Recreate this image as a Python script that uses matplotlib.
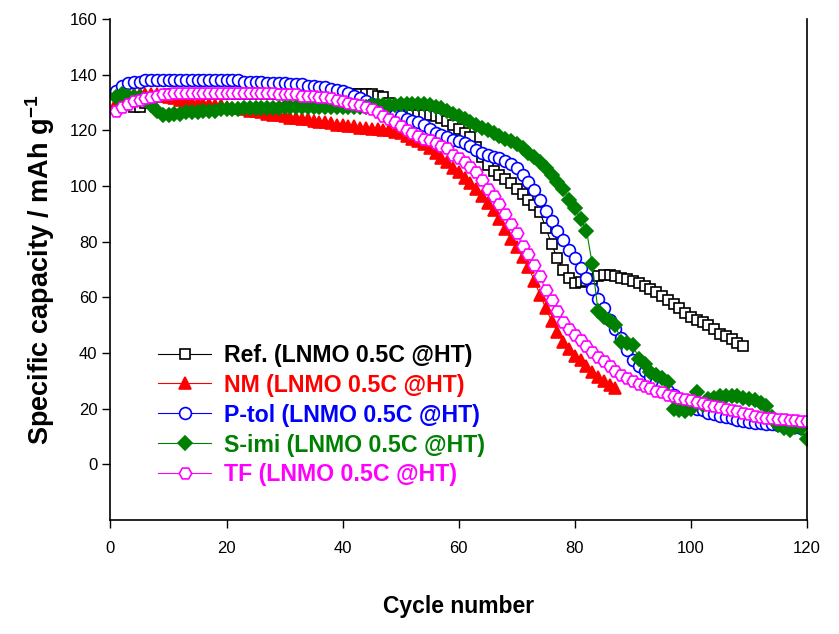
import numpy as np
import matplotlib
matplotlib.use("Agg")
import matplotlib.pyplot as plt

# Fuentes tipo Arial
plt.rcParams['font.family'] = ['Liberation Sans', 'DejaVu Sans']
plt.rcParams['mathtext.fontset'] = 'custom'
plt.rcParams['mathtext.rm'] = 'Liberation Sans'
plt.rcParams['mathtext.bf'] = 'Liberation Sans:bold'

# Datos (capacidad específica por ciclo)
ref_cap = [133, 131, 129.5, 128.5, 128.5, 130, 131.5, 132, 132.5, 133,
           133, 133, 133, 133, 133, 133, 133, 133, 133, 133,
           133, 133, 133, 133, 133, 133, 133, 133, 133, 133,
           133, 133, 133, 133, 133, 133, 133, 133, 133, 133,
           133, 133, 133, 133, 133, 132.5, 132, 130, 127, 125.5,
           125.5, 125.5, 125.5, 125.5, 125.5, 125, 124.5, 123.5, 122, 120.5,
           119, 117.5, 114, 110.5, 107.5, 105.5, 104, 102.5, 101, 99,
           97, 95, 93, 90.5, 85, 79, 74, 70, 67, 65,
           65.5, 66, 66.5, 67.5, 68, 68, 67.5, 67, 66.5, 66,
           65, 64, 63, 62, 60.5, 59, 57.5, 56, 54.5, 53,
           52, 51, 50, 48.5, 47, 46, 45, 43.5, 42.5]

nm_cap = [130, 131.5, 132.5, 133, 133, 133, 133, 133, 132.5, 132,
          131.5, 131, 130.5, 130, 130, 129.5, 129.5, 129, 129, 128.5,
          128, 128, 127.5, 127, 127, 126.5, 126, 125.5, 125.5, 125,
          124.5, 124.5, 124, 124, 123.5, 123, 123, 122.5, 122, 122,
          121.5, 121.5, 121, 121, 120.5, 120.5, 120, 120, 119.5, 119,
          118, 117, 116, 115, 113.5, 112, 110, 108.5, 106.5, 105,
          103, 101, 99, 96.5, 94, 91.5, 88, 84.5, 81, 78,
          74.5, 71, 66, 61, 56, 51.5, 47.5, 44, 41.5, 39,
          37.5, 35.5, 33, 31.5, 30, 28.5, 27.5]

ptol_cap = [134, 136, 137, 137.5, 137.5, 138, 138, 138, 138, 138,
            138, 138, 138, 138, 138, 138, 138, 138, 138, 138,
            138, 138, 137.5, 137.5, 137.5, 137.5, 137, 137, 137, 137,
            136.5, 136.5, 136.5, 136, 136, 135.5, 135.5, 135, 134.5, 134,
            133.5, 132.5, 131.5, 130.5, 129.5, 128.5, 127.5, 126.5, 125.5, 125,
            124, 123.5, 123, 122, 120.5, 119, 118.5, 117.5, 116.5, 116,
            115.5, 114.5, 113, 112, 111, 110.5, 110, 109, 108, 106.5,
            104, 101.5, 98.5, 95, 91, 87.5, 84, 80.5, 77, 74,
            70.5, 67, 63, 59.5, 56, 52, 48.5, 45.5, 41, 37.5,
            35.5, 33.5, 31.5, 29.5, 28, 26.5, 25, 23.5, 22.5, 21,
            20, 19.5, 18.5, 18, 17.5, 17, 16.5, 16, 15.5, 15.3,
            15, 14.8, 14.6, 14.4, 14.2, 14, 13.7, 13.3, 13, 12.5]

simi_cap = [132, 133, 132.5, 132, 132, 131, 129, 127, 125.5, 125.5,
            126, 126, 126.5, 126.5, 126.5, 127, 127, 127, 127.5, 127.5,
            127.5, 127.5, 128, 128, 128, 128, 128, 128, 128, 128.5,
            128.5, 128.5, 128.5, 128.5, 128.5, 128.5, 128.5, 128.5, 128.5, 128.5,
            128.5, 128.5, 128.5, 128.5, 129, 129, 129, 129, 129, 129.5,
            129.5, 129.5, 129.5, 129.5, 129, 128.5, 128, 127, 126, 125,
            124, 123, 122, 121, 120, 119, 118, 117, 116, 115,
            113.5, 112, 110.5, 108.5, 106.5, 104, 101.5, 99, 95, 92,
            88, 84, 72, 55, 53, 51.5, 50, 44, 43.5, 43,
            38, 36, 33, 32, 31, 29.5, 20, 19.5, 19, 20,
            26, 21.5, 23.5, 24, 24.5, 24.5, 24.5, 24.5, 24, 23.5,
            23, 22, 21, 17, 14, 13, 12.5, 13.5, 13, 9]

tf_cap = [127, 128.5, 129.5, 130.5, 131, 131.5, 132, 132.5, 133, 133,
          133.5, 133.5, 133.5, 133.5, 133.5, 133.5, 133.5, 133.5, 133.5, 133.5,
          133.5, 133.5, 133.5, 133.5, 133.5, 133.5, 133.5, 133.5, 133, 133,
          133, 133, 132.5, 132.5, 132.5, 132, 132, 131.5, 131, 130.5,
          130, 129.5, 129, 128.5, 127.5, 126.5, 125, 124, 123, 121.5,
          120, 119, 118, 117, 116.5, 115.5, 114.5, 113.5, 111, 110,
          108.5, 107, 105, 102, 99, 96.5, 93.5, 90, 86.5, 83,
          78.5, 75.5, 71.5, 67.5, 62.5, 59, 55, 51, 48.5, 46.5,
          44.5, 42.5, 40.5, 38.5, 37, 35.5, 33.5, 32, 31, 30,
          29, 28, 27.5, 26.5, 26, 25, 24.5, 24, 23.5, 23,
          22.5, 22, 21.5, 21, 20.5, 20, 19.5, 19, 18.5, 18,
          17.5, 17, 16.8, 16.6, 16.4, 16.2, 16, 15.8, 15.7, 15.5]

labels = ["Ref. (LNMO 0.5C @HT)", "NM (LNMO 0.5C @HT)", "P-tol (LNMO 0.5C @HT)",
          "S-imi (LNMO 0.5C @HT)", "TF (LNMO 0.5C @HT)"]
colors = ["black", "#FF0000", "#0000FF", "#008000", "#FF00FF"]

fig = plt.figure(figsize=(8.39, 6.34), dpi=100)
ax = fig.add_axes([0.1317, 0.1798, 0.8302, 0.7902])

# Series: símbolo, relleno, tamaño
series = [
    (ref_cap, 's', 'white', 7.5),
    (nm_cap, '^', colors[1], 8),
    (ptol_cap, 'o', 'white', 8.5),
    (simi_cap, 'D', colors[3], 7),
    (tf_cap, 'H', 'white', 9),
]
for i, (vals, mk, fc, ms) in enumerate(series):
    cyc = np.arange(1, len(vals) + 1)
    ax.plot(cyc, vals, color=colors[i], lw=0.8, marker=mk, ms=ms,
            mfc=fc, mec=colors[i], mew=1.2, label=labels[i])

ax.set_xlim(0, 120)
ax.set_ylim(-20, 160)
ax.set_xticks(np.arange(0, 121, 20))
ax.set_yticks(np.arange(0, 161, 20))
ax.tick_params(direction='out', length=6, width=1, labelsize=12)
ax.tick_params(axis='x', pad=9)
ax.spines['top'].set_visible(False)
for s in ['left', 'bottom', 'right']:
    ax.spines[s].set_linewidth(1.2)

ax.set_xlabel("Cycle number", fontsize=16.5, fontweight='bold', labelpad=28)
ax.set_ylabel("Specific capacity / mAh g$^{\\mathbf{-1}}$", fontsize=19.5,
              fontweight='bold', labelpad=9)

leg = ax.legend(loc='upper left', bbox_to_anchor=(0.068, 0.352), frameon=False,
                prop={'weight': 'bold', 'size': 16.7}, handlelength=2.3,
                handletextpad=0.55, labelspacing=0.3, borderpad=0, borderaxespad=0)
for txt, c in zip(leg.get_texts(), colors):
    txt.set_color(c)

fig.savefig("out.png", dpi=100)
